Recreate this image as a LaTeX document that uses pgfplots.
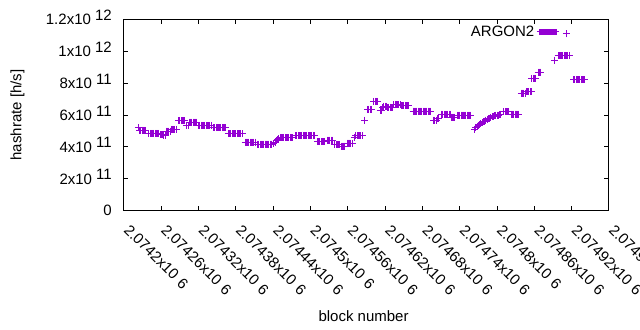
\documentclass[border=0pt]{standalone}
\usepackage{pgfplots}
\pgfplotsset{compat=1.18}
\usepackage{fontspec}
\setmainfont{Liberation Sans}
\definecolor{argon}{HTML}{9400D3}
\newcommand\sci[2]{#1x10\ \raisebox{4.3bp}{#2}}
\newcommand\xsci[1]{#1x10\hspace{5bp}6}
\begin{document}
\begin{tikzpicture}[font=\fontsize{15bp}{18bp}\selectfont]
\path[use as bounding box] (-124bp,-119.5bp) rectangle (516bp,210.5bp);
\begin{axis}[
  scale only axis, width=485bp, height=191bp,
  xmin=0, xmax=780, ymin=0, ymax=12,
  axis line style={line width=1bp},
  every tick/.style={black, line width=1bp},
  major tick length=4.5bp,
  xtick={0,60,...,780},
  xticklabels={{\xsci{2.0742}},{\xsci{2.07426}},{\xsci{2.07432}},{\xsci{2.07438}},{\xsci{2.07444}},{\xsci{2.0745}},{\xsci{2.07456}},{\xsci{2.07462}},{\xsci{2.07468}},{\xsci{2.07474}},{\xsci{2.0748}},{\xsci{2.07486}},{\xsci{2.07492}},{\xsci{2.07498}}},
  xticklabel style={inner sep=0pt, xshift=-1bp, yshift=-20.5bp, rotate=-45, anchor=base west},
  ytick={0,2,...,12},
  yticklabels={0,{\sci{2}{11}},{\sci{4}{11}},{\sci{6}{11}},{\sci{8}{11}},{\sci{1}{12}},{\sci{1.2}{12}}},
  yticklabel style={inner sep=0pt, anchor=base east, xshift=-12bp, yshift=-5.4bp},
  xlabel={block number},
  xlabel style={at={(axis description cs:0.494,-0.555)}, anchor=center, inner sep=0pt},
  ylabel={hashrate [h/s]},
  ylabel style={at={(axis description cs:-0.2196,0.5)}, anchor=center, inner sep=0pt},
  legend plot pos=right,
  legend style={at={(axis description cs:0.9206,0.9346)}, anchor=east, draw=none, fill=none, inner sep=0pt, row sep=0pt},
  legend cell align=right,
  legend image code/.code={
    \fill[argon] (0bp,-2.5bp) rectangle (17bp,2.5bp);
    \draw[argon, line width=1bp] (-2.5bp,0bp) -- (20bp,0bp);
    \draw[argon, line width=1bp] (27bp,-5.5bp) -- (27bp,1.5bp) (23.5bp,-2bp) -- (30.5bp,-2bp);
  },
]
\addplot[only marks, mark=+, mark size=3.5bp, color=argon, line width=1bp] table[row sep=\\] {
x y\\
23 5.20\\ 25 5.03\\ 27 5.03\\ 29 5.03\\ 31 5.03\\ 33 5.03\\ 35 5.03\\
40 4.84\\ 42 4.84\\ 44 4.84\\ 46 4.84\\ 48 4.84\\ 50 4.84\\ 52 4.84\\ 54 4.84\\ 56 4.84\\
58 4.78\\ 60 4.78\\ 62 4.78\\ 64 4.70\\ 66 4.70\\
68 4.98\\ 70 4.98\\ 72 4.98\\ 74 4.98\\ 76 5.10\\ 78 5.10\\ 80 5.10\\ 82 5.10\\ 84 5.10\\
88 5.64\\ 90 5.64\\ 92 5.64\\ 94 5.64\\ 96 5.64\\ 98 5.64\\
101 5.32\\ 103 5.32\\
105 5.56\\ 107 5.56\\ 109 5.56\\ 111 5.56\\ 113 5.56\\ 115 5.56\\ 117 5.56\\
120 5.35\\ 122 5.35\\ 124 5.35\\ 126 5.35\\ 128 5.35\\ 130 5.35\\ 132 5.35\\ 134 5.35\\ 136 5.35\\ 138 5.35\\ 140 5.35\\
144 5.19\\ 146 5.19\\ 148 5.19\\ 150 5.19\\ 152 5.19\\ 154 5.19\\ 156 5.19\\ 158 5.19\\ 160 5.19\\ 162 5.19\\ 164 5.19\\
168 4.82\\ 170 4.82\\ 172 4.82\\ 174 4.82\\ 176 4.82\\ 178 4.82\\ 180 4.82\\ 182 4.82\\ 184 4.82\\ 186 4.82\\ 188 4.82\\ 190 4.82\\
195 4.30\\ 197 4.30\\ 199 4.30\\ 201 4.30\\ 203 4.30\\ 205 4.30\\ 207 4.30\\ 209 4.30\\ 211 4.30\\
215 4.17\\ 217 4.17\\ 219 4.17\\ 221 4.17\\ 223 4.17\\ 225 4.17\\ 227 4.17\\ 229 4.17\\ 231 4.17\\ 233 4.17\\ 235 4.17\\ 237 4.17\\
241 4.22\\ 243 4.30\\ 245 4.38\\ 247 4.45\\ 249 4.52\\
251 4.58\\ 253 4.58\\ 255 4.58\\ 257 4.58\\ 259 4.58\\ 261 4.58\\ 263 4.58\\ 265 4.58\\ 267 4.58\\ 269 4.58\\ 271 4.58\\
276 4.69\\ 278 4.69\\ 280 4.69\\ 282 4.69\\ 284 4.69\\ 286 4.69\\ 288 4.69\\ 290 4.69\\ 292 4.69\\ 294 4.69\\ 296 4.69\\ 298 4.69\\ 300 4.69\\ 302 4.69\\ 304 4.69\\ 306 4.69\\
311 4.31\\ 313 4.31\\ 315 4.31\\ 317 4.31\\ 319 4.31\\ 321 4.31\\ 323 4.31\\
327 4.42\\ 329 4.42\\ 331 4.42\\ 333 4.42\\ 335 4.42\\
339 4.13\\ 341 4.13\\ 343 4.13\\ 345 4.13\\ 347 4.13\\ 349 4.05\\ 351 4.05\\ 353 4.05\\ 355 4.05\\
359 4.23\\ 361 4.23\\ 363 4.23\\ 365 4.23\\ 367 4.23\\
371 4.60\\ 373 4.69\\ 375 4.69\\ 377 4.69\\ 379 4.69\\ 381 4.69\\ 383 4.69\\
387 5.68\\
392 6.36\\ 394 6.36\\ 396 6.36\\ 398 6.36\\
402 6.86\\ 404 6.86\\ 406 6.86\\ 408 6.86\\
412 6.30\\ 414 6.30\\ 416 6.45\\ 418 6.56\\ 420 6.56\\ 422 6.56\\ 424 6.50\\ 426 6.50\\ 428 6.50\\
430 6.44\\ 432 6.44\\
434 6.63\\ 436 6.63\\ 438 6.63\\ 440 6.63\\ 442 6.63\\ 444 6.63\\
446 6.57\\ 448 6.57\\ 450 6.57\\ 452 6.57\\ 454 6.57\\ 456 6.57\\ 458 6.57\\
465 6.25\\ 467 6.25\\ 469 6.25\\ 471 6.25\\ 473 6.25\\ 475 6.25\\ 477 6.25\\ 479 6.25\\ 481 6.25\\ 483 6.25\\ 485 6.25\\ 487 6.25\\ 489 6.25\\ 491 6.25\\ 493 6.25\\
498 5.68\\ 500 5.68\\ 502 5.68\\ 504 5.78\\ 506 5.78\\
511 6.05\\ 513 6.05\\ 515 6.05\\ 517 6.05\\ 519 6.05\\ 521 6.05\\ 523 6.05\\ 525 6.05\\
526 5.87\\ 528 5.87\\ 530 5.87\\ 532 5.87\\
536 6.00\\ 538 6.00\\ 540 6.00\\ 542 6.00\\ 544 6.00\\ 546 6.00\\ 548 6.00\\ 550 6.00\\ 552 6.00\\ 554 6.00\\ 556 6.00\\ 558 6.00\\
564 5.12\\ 566 5.22\\ 568 5.30\\ 570 5.35\\ 572 5.38\\ 574 5.45\\ 576 5.52\\ 578 5.57\\ 580 5.62\\ 582 5.68\\
584 5.72\\ 586 5.76\\ 588 5.80\\ 590 5.85\\ 592 5.90\\ 594 5.93\\ 596 5.96\\ 598 5.98\\ 600 6.00\\ 602 6.00\\
604 6.02\\ 606 6.05\\
611 6.19\\ 613 6.19\\ 615 6.19\\ 617 6.19\\ 619 6.19\\
623 6.05\\ 625 6.05\\ 627 6.05\\ 629 6.05\\ 631 6.05\\ 633 6.05\\ 635 6.05\\
639 7.37\\ 641 7.37\\ 643 7.37\\ 645 7.37\\ 647 7.47\\ 649 7.47\\ 651 7.47\\ 653 7.47\\ 655 7.47\\
656 8.30\\ 658 8.30\\ 660 8.30\\ 662 8.30\\
666 8.70\\ 668 8.70\\ 670 8.70\\
692 9.45\\
698 9.73\\ 700 9.73\\ 702 9.73\\ 704 9.73\\ 706 9.73\\ 708 9.73\\ 710 9.73\\ 712 9.73\\ 714 9.73\\ 716 9.73\\
723 8.21\\ 725 8.21\\ 727 8.21\\ 729 8.21\\ 731 8.21\\ 733 8.21\\ 735 8.21\\ 737 8.21\\ 739 8.21\\ 741 8.21\\
};
\addlegendentry{ARGON2}
\end{axis}
\end{tikzpicture}
\end{document}
